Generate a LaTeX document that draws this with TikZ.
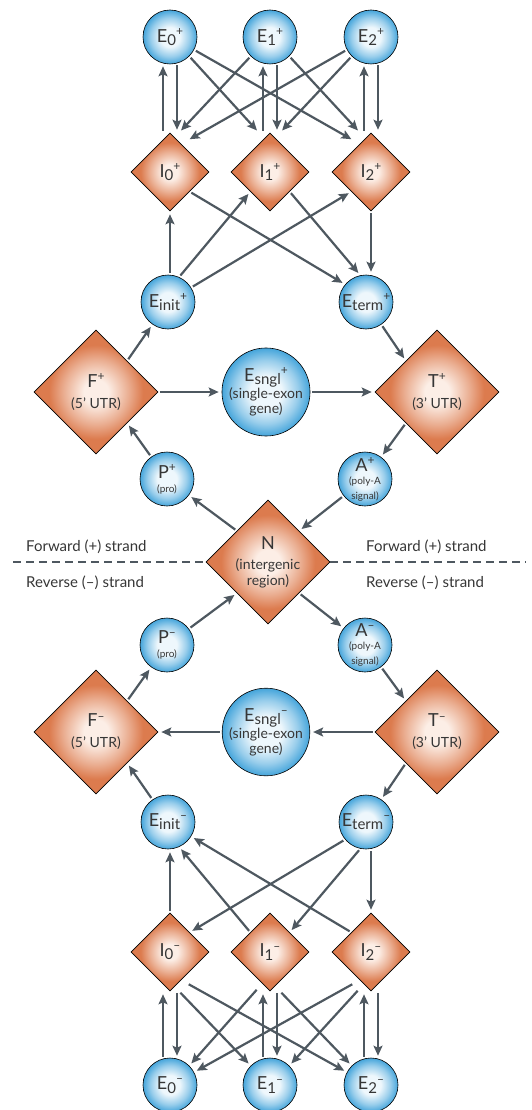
\documentclass[tikz,border=0pt]{standalone}
\usepackage{fontspec}
\setmainfont{Lato}
\usetikzlibrary{shapes.geometric, arrows.meta, calc}

\definecolor{exonedge}{HTML}{45A5DB}
\definecolor{exonmid}{HTML}{EEF7FC}
\definecolor{intronedge}{HTML}{DC7B4E}
\definecolor{intronmid}{HTML}{FCEEE6}
\definecolor{arrowgray}{HTML}{4E5860}
\definecolor{textgray}{HTML}{363636}

\pgfdeclareradialshading{exonball}{\pgfpoint{0bp}{0bp}}{%
  color(0bp)=(exonmid); color(9bp)=(exonmid); color(18bp)=(exonedge!50!exonmid);
  color(25bp)=(exonedge); color(50bp)=(exonedge)}
\pgfdeclareradialshading{intronball}{\pgfpoint{0bp}{0bp}}{%
  color(0bp)=(intronmid); color(5bp)=(intronmid); color(13bp)=(intronedge!55!intronmid);
  color(19bp)=(intronedge); color(50bp)=(intronedge)}

\newcommand{\statelab}[3]{#1\raisebox{-0.35ex}{\fontsize{15}{15}\selectfont #2}\raisebox{0.75ex}{\fontsize{12}{12}\selectfont #3}}
\newcommand{\sublab}[1]{{\fontsize{14}{15}\selectfont #1}}
\newcommand{\tinylab}[1]{{\fontsize{10}{10}\selectfont #1}}

\begin{document}
\begin{tikzpicture}[
    > = {Stealth[length = 10pt, width = 9pt, inset = 2pt]},
    x = 1pt, y = -1pt,
    exon/.style = {circle, draw = black, line width = 0.6pt, shade, shading = exonball,
      minimum size = 54pt, inner sep = 0pt, text = textgray, align = center,
      font = \fontsize{18}{18}\selectfont},
    bigexon/.style = {exon, minimum size = 86pt},
    intron/.style = {diamond, aspect = 1, draw = black, line width = 0.6pt, shade, shading = intronball,
      minimum size = 78pt, inner sep = 0pt, text = textgray, align = center,
      font = \fontsize{18}{18}\selectfont},
    bigintron/.style = {intron, minimum size = 124pt},
    flow/.style = {->, line width = 2.2pt, draw = arrowgray, shorten > = 3pt, shorten < = 2pt},
    strand/.style = {anchor = west, inner sep = 0pt, text = textgray, font = \fontsize{15}{17}\selectfont}
  ]

	\useasboundingbox (0, 0) rectangle (531, 1110);

	% Strand divider

	\coordinate (dashL) at (13, 562);
	\coordinate (dashR) at (526, 562);

	% Forward strand states

	\node [exon] (E0fwd) at (170, 37) {\statelab{E}{0}{+}};
	\node [exon] (E1fwd) at (270, 37) {\statelab{E}{1}{+}};
	\node [exon] (E2fwd) at (371, 37) {\statelab{E}{2}{+}};

	\node [intron] (I0fwd) at (170, 172) {\statelab{I}{0}{+}};
	\node [intron] (I1fwd) at (270, 172) {\statelab{I}{1}{+}};
	\node [intron] (I2fwd) at (371, 172) {\statelab{I}{2}{+}};

	\node [exon] (Einitfwd) at (168, 302) {\statelab{E}{init}{+}};
	\node [exon] (Etermfwd) at (366, 302) {\statelab{E}{term}{+}};

	\node [bigintron] (Ffwd) at (96, 392) {\statelab{F}{}{+}\\[3pt] \sublab{(5’ UTR)}};
	\node [bigexon] (Esnglfwd) at (266, 392) {\statelab{E}{sngl}{+}\\[-1pt] \sublab{(single-exon}\\[-3pt] \sublab{gene)}};
	\node [bigintron] (Tfwd) at (437, 392) {\statelab{T}{}{+}\\[3pt] \sublab{(3’ UTR)}};

	\node [exon] (Pfwd) at (167, 479) {\statelab{P}{}{+}\\[-4pt] \tinylab{(pro)}};
	\node [exon] (Afwd) at (365, 479) {\statelab{A}{}{+}\\[-5pt] \tinylab{(poly-A}\\[-3pt] \tinylab{signal)}};

	% Intergenic state

	\node [bigintron] (N) at (268, 562) {N\\[2pt] \sublab{(intergenic}\\[-2pt] \sublab{region)}};

	% Reverse strand states

	\node [exon] (Prev) at (167, 645) {\statelab{P}{}{–}\\[-4pt] \tinylab{(pro)}};
	\node [exon] (Arev) at (365, 645) {\statelab{A}{}{–}\\[-5pt] \tinylab{(poly-A}\\[-3pt] \tinylab{signal)}};

	\node [bigintron] (Frev) at (96, 732) {\statelab{F}{}{–}\\[3pt] \sublab{(5’ UTR)}};
	\node [bigexon] (Esnglrev) at (266, 732) {\statelab{E}{sngl}{–}\\[-1pt] \sublab{(single-exon}\\[-3pt] \sublab{gene)}};
	\node [bigintron] (Trev) at (437, 732) {\statelab{T}{}{–}\\[3pt] \sublab{(3’ UTR)}};

	\node [exon] (Einitrev) at (168, 822) {\statelab{E}{init}{–}};
	\node [exon] (Etermrev) at (366, 822) {\statelab{E}{term}{–}};

	\node [intron] (I0rev) at (170, 952) {\statelab{I}{0}{–}};
	\node [intron] (I1rev) at (270, 952) {\statelab{I}{1}{–}};
	\node [intron] (I2rev) at (371, 952) {\statelab{I}{2}{–}};

	\node [exon] (E0rev) at (170, 1085) {\statelab{E}{0}{–}};
	\node [exon] (E1rev) at (270, 1085) {\statelab{E}{1}{–}};
	\node [exon] (E2rev) at (371, 1085) {\statelab{E}{2}{–}};

	% Strand labels

	\draw [dashed, dash pattern = on 8pt off 5pt, line width = 1.1pt, arrowgray] (dashL) -- (N.west);
	\draw [dashed, dash pattern = on 8pt off 5pt, line width = 1.1pt, arrowgray] (N.east) -- (dashR);

	\node [strand] (fwdL) at (26, 547) {Forward (+) strand};
	\node [strand] (fwdR) at (366, 547) {Forward (+) strand};
	\node [strand] (revL) at (26, 583) {Reverse (–) strand};
	\node [strand] (revR) at (366, 583) {Reverse (–) strand};

	% Exon and intron transitions, forward strand

	\draw [flow] ($(I0fwd.north)+(-7, 0)$) -- ($(E0fwd.south)+(-7, -1)$);
	\draw [flow] ($(E0fwd.south)+(7, -1)$) -- ($(I0fwd.north)+(7, 0)$);
	\draw [flow] ($(I1fwd.north)+(-7, 0)$) -- ($(E1fwd.south)+(-7, -1)$);
	\draw [flow] ($(E1fwd.south)+(7, -1)$) -- ($(I1fwd.north)+(7, 0)$);
	\draw [flow] ($(I2fwd.north)+(-7, 0)$) -- ($(E2fwd.south)+(-7, -1)$);
	\draw [flow] ($(E2fwd.south)+(7, -1)$) -- ($(I2fwd.north)+(7, 0)$);

	\draw [flow] (E0fwd.-45) -- ($(I1fwd.north)+(-11, 0)$);
	\draw [flow] (E0fwd.-28) -- ($(I2fwd.north)+(-17, 8)$);
	\draw [flow] (E1fwd.-135) -- ($(I0fwd.north)+(9, 0)$);
	\draw [flow] (E1fwd.-45) -- ($(I2fwd.north)+(-11, 0)$);
	\draw [flow] (E2fwd.-152) -- ($(I0fwd.north)+(17, 8)$);
	\draw [flow] (E2fwd.-135) -- ($(I1fwd.north)+(10, 0)$);

	\draw [flow] (Einitfwd.north -| I0fwd) -- (I0fwd.south);
	\draw [flow] (Einitfwd.66) -- (I1fwd.south west);
	\draw [flow] (Einitfwd.32) -- (I2fwd.south west);
	\draw [flow] (I0fwd.south east) -- (Etermfwd.140);
	\draw [flow] (I1fwd.south east) -- (Etermfwd.102);
	\draw [flow] (I2fwd.south) -- (Etermfwd.north -| I2fwd);

	% Gene ends, forward strand

	\draw [flow] (Ffwd.north east) -- (Einitfwd);
	\draw [flow] (Etermfwd) -- (Tfwd.north west);
	\draw [flow] (Ffwd) -- (Esnglfwd);
	\draw [flow] (Esnglfwd) -- (Tfwd);
	\draw [flow] (Pfwd) -- (Ffwd.south east);
	\draw [flow] (Tfwd.south west) -- (Afwd);
	\draw [flow] (Afwd) -- (N.north east);
	\draw [flow] (N.north west) -- (Pfwd);

	% Gene ends, reverse strand

	\draw [flow] (N.south east) -- (Arev);
	\draw [flow] (Prev) -- (N.south west);
	\draw [flow] (Arev) -- (Trev.north west);
	\draw [flow] (Trev) -- (Esnglrev);
	\draw [flow] (Esnglrev) -- (Frev);
	\draw [flow] (Frev.north east) -- (Prev);
	\draw [flow] (Einitrev) -- (Frev.south east);
	\draw [flow] (Trev.south west) -- (Etermrev);

	% Exon and intron transitions, reverse strand

	\draw [flow] (I0rev.north) -- (Einitrev.south -| I0rev);
	\draw [flow] (I1rev.north west) -- (Einitrev.-66);
	\draw [flow] (I2rev.north west) -- (Einitrev.-32);
	\draw [flow] (Etermrev.-140) -- (I0rev.north east);
	\draw [flow] (Etermrev.-102) -- (I1rev.north east);
	\draw [flow] (Etermrev.south -| I2rev) -- (I2rev.north);

	\draw [flow] ($(E0rev.north)+(-7, 1)$) -- ($(I0rev.south)+(-7, 0)$);
	\draw [flow] ($(I0rev.south)+(7, 0)$) -- ($(E0rev.north)+(7, 1)$);
	\draw [flow] ($(E1rev.north)+(-7, 1)$) -- ($(I1rev.south)+(-7, 0)$);
	\draw [flow] ($(I1rev.south)+(7, 0)$) -- ($(E1rev.north)+(7, 1)$);
	\draw [flow] ($(E2rev.north)+(-7, 1)$) -- ($(I2rev.south)+(-7, 0)$);
	\draw [flow] ($(I2rev.south)+(7, 0)$) -- ($(E2rev.north)+(7, 1)$);

	\draw [flow] ($(I1rev.south)+(-12, -3)$) -- (E0rev.45);
	\draw [flow] ($(I2rev.south)+(-17, -8)$) -- (E0rev.28);
	\draw [flow] ($(I0rev.south)+(9, 0)$) -- (E1rev.135);
	\draw [flow] ($(I2rev.south)+(-12, -2)$) -- (E1rev.45);
	\draw [flow] ($(I0rev.south)+(17, -8)$) -- (E2rev.152);
	\draw [flow] ($(I1rev.south)+(10, 0)$) -- (E2rev.135);

\end{tikzpicture}
\end{document}
